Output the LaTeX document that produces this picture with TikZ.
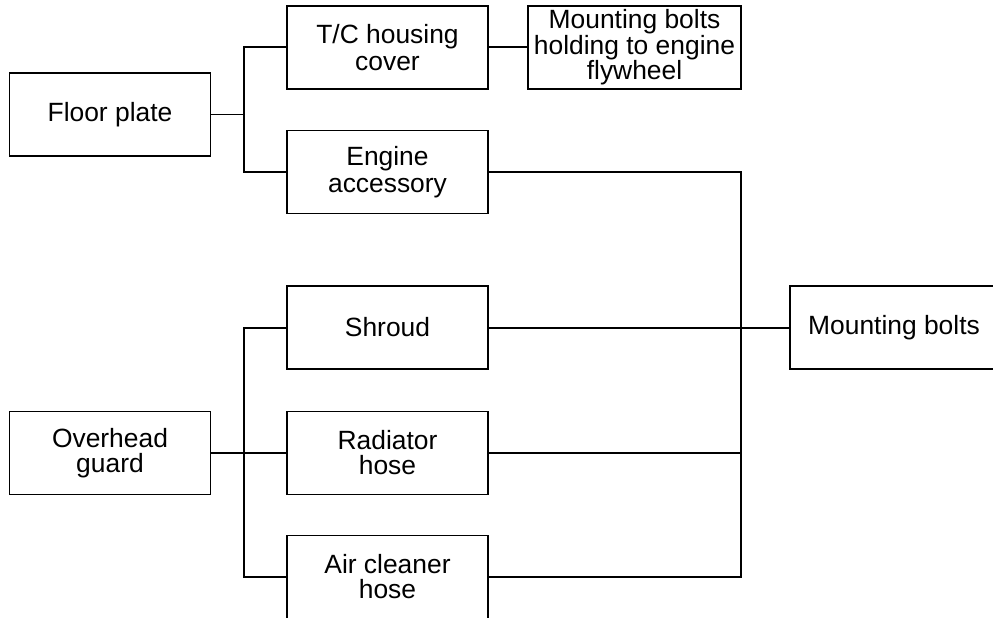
\documentclass[tikz,border=0pt]{standalone}
\usepackage{fontspec}
\setmainfont{Liberation Sans}
\usetikzlibrary{calc,positioning}

\tikzset{
  part/.style={draw, line width=1.4pt, minimum width=201pt, minimum height=83pt,
    inner sep=0pt, align=center, font=\fontsize{26.4}{25}\selectfont},
  link/.style={line width=2pt},
  thinlink/.style={line width=1pt}
}

\begin{document}
\begin{tikzpicture}[x=1pt,y=-1pt]
\useasboundingbox (0,0) rectangle (993,618);
% left side
\node[part] (floor) at (110,114.5) {Floor plate};
\node[part] (guard) at (110,453) {Overhead\\guard};
% middle column
\node[part,font=\fontsize{26.4}{26.5}\selectfont] (tc) at (387.5,47.5) {T/C housing\\cover};
\node[part,font=\fontsize{26.4}{26.5}\selectfont] (eng) at (387.5,172) {Engine\\accessory};
\node[part] (shroud) at (387.5,327.5) {Shroud};
\node[part] (rad) at (387.5,453) {Radiator\\hose};
\node[part] (air) at (387.5,577) {Air cleaner\\hose};
% right side
\node[part,minimum width=213pt,font=\fontsize{26.4}{23.5}\selectfont] (fly) at (634.5,47.5) {Mounting bolts\\holding to engine\\flywheel};
\node[part,minimum width=208pt] (bolts) at (894,327.5) {Mounting bolts};
% bus points
\coordinate (fbus) at (244,114.5);
\coordinate (gbus) at (244,453);
\coordinate (rbus) at (741,327.5);
% connectors
\draw[thinlink] (floor.east) -- (fbus);
\draw[link] (tc.west) -| (fbus) |- (eng.west);
\draw[link] (tc.east) -- (fly.west);
\draw[link] (guard.east) -- (gbus);
\draw[link] (shroud.west) -| (gbus) |- (air.west);
\draw[link] (rad.west) -- (gbus);
\draw[link] (eng.east) -| (rbus) |- (air.east);
\draw[link] (rad.east) -| (rbus);
\draw[link] (shroud.east) -- (bolts.west);
\end{tikzpicture}
\end{document}
